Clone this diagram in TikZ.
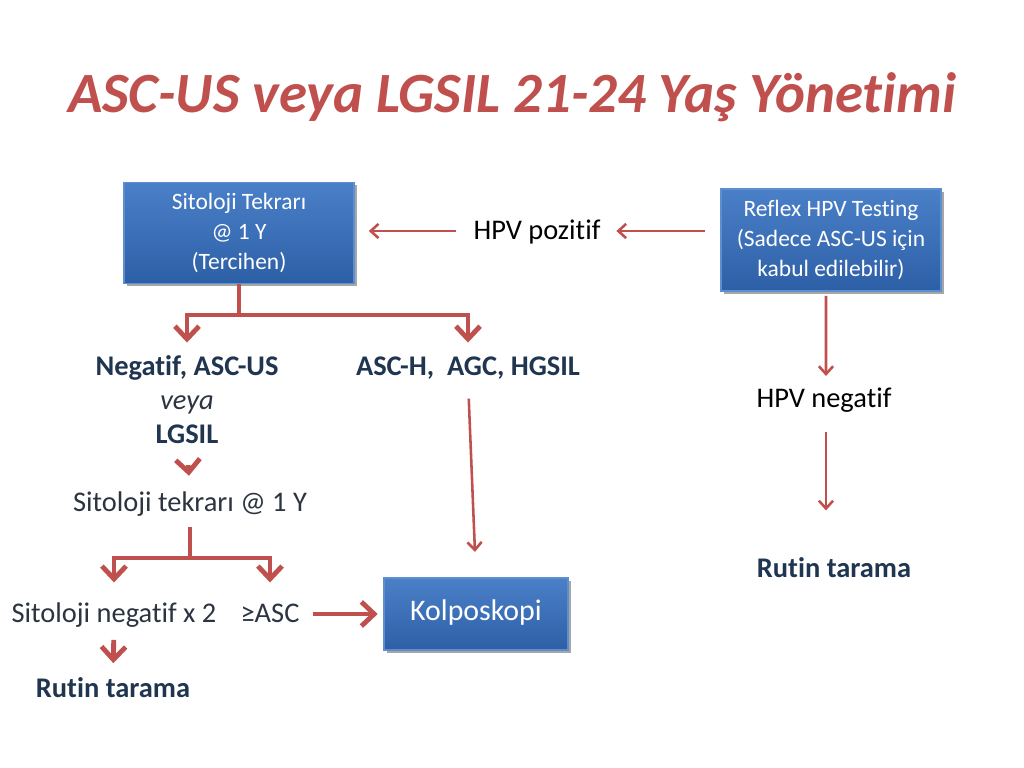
\documentclass[tikz,border=0pt]{standalone}
\usepackage{fontspec}
\setmainfont{Carlito}[Ligatures=NoCommon]
\usetikzlibrary{arrows.meta,shadows}
\definecolor{redA}{HTML}{C0504D}
\definecolor{arrowred}{HTML}{C0504D}
\definecolor{navy}{HTML}{1F3550}
\definecolor{darktext}{HTML}{2B3440}
\definecolor{boxtop}{HTML}{4A80C8}
\definecolor{boxbot}{HTML}{2D5FA6}
\definecolor{boxedge}{HTML}{5D8FD0}
\tikzset{
  bluebox/.style={draw=boxedge, line width=0.8pt, top color=boxtop, bottom color=boxbot,
    text=white, align=center, font=\fontsize{16.5}{21}\selectfont,
    drop shadow={shadow xshift=2pt, shadow yshift=-2pt, opacity=0.35, fill=black}},
  lbl/.style={inner sep=0pt, align=center, text height=15pt, text depth=3pt, font=\fontsize{20}{24}\selectfont},
  boldlbl/.style={lbl, text=navy, font=\fontsize{20}{24}\selectfont\bfseries},
  thinarrow/.style={draw=arrowred, line width=1.8pt, -{Straight Barb[length=5.5pt,width=10pt]}},
  thickarrow/.style={draw=arrowred, line width=3.4pt, -{Straight Barb[length=9pt,width=17pt]}},
  thickline/.style={draw=arrowred, line width=3.4pt}
}
\begin{document}
\begin{tikzpicture}[x=0.703pt,y=-0.703pt]
\useasboundingbox[fill=white] (0,0) rectangle (1024,768);

\node[inner sep=0pt, text=redA, font=\fontsize{40}{48}\selectfont\bfseries\itshape] (title) at (512,97) {ASC-US veya LGSIL 21-24 Yaş Yönetimi};

\node[bluebox, minimum width=161.7pt, minimum height=71pt] (b1) at (239,233) {Sitoloji Tekrarı\\@ 1 Y\\(Tercihen)};
\node[lbl, text=black] (hpvp) at (537,231) {HPV pozitif};
\node[bluebox, minimum width=154.7pt, minimum height=71.7pt] (b2) at (831,240) {Reflex HPV Testing\\(Sadece ASC-US için\\kabul edilebilir)};

\node[boldlbl] (neg1) at (187,367) {Negatif, ASC-US};
\node[lbl, text=darktext, font=\fontsize{20}{24}\selectfont\itshape] (veya) at (187,401) {veya};
\node[boldlbl] (lgsil) at (187,435) {LGSIL};
\node[boldlbl] (agc) at (468,367) {ASC-H,\ \ AGC, HGSIL};

\node[lbl, text=darktext] (tek) at (190,503) {Sitoloji tekrarı @ 1 Y};
\node[lbl, text=darktext] (sneg) at (114,614) {Sitoloji negatif x 2};
\node[lbl, text=darktext] (asc) at (270,614) {≥ASC};
\node[bluebox, minimum width=129.4pt, minimum height=50.6pt, text height=13pt, text depth=4pt, font=\fontsize{21}{25}\selectfont] (kol) at (476,614) {Kolposkopi};
\node[boldlbl] (rut1) at (113,689) {Rutin tarama};

\node[lbl, text=black] (hpvn) at (824,399) {HPV negatif};
\node[boldlbl] (rut2) at (834,569) {Rutin tarama};

\coordinate (j1) at (239,315);
\coordinate (j2) at (190,558);

% thin arrows
\draw[thinarrow, shorten <=12pt, shorten >=10pt] (hpvp.west) -- (b1.east |- hpvp.west);
\draw[thinarrow, shorten <=11pt, shorten >=11pt] (b2.west |- hpvp.east) -- (hpvp.east);
\draw[thinarrow, shorten <=13pt, shorten >=18pt] (agc.south) -- (kol.north);
\draw[thinarrow, shorten <=3pt, shorten >=7pt] (b2.south -| hpvn.north) ++(2,0) -- ([xshift=1.4pt]hpvn.north);
\draw[thinarrow, shorten <=14pt, shorten >=32pt] ([xshift=1.4pt]hpvn.south) -- ([xshift=1.4pt]hpvn.south |- rut2.north);

% thick tree arrows
\draw[thickline] (b1.south) -- (j1);
\draw[thickarrow, shorten >=8pt] (j1) -| (neg1.north);
\draw[thickarrow, shorten >=8pt] (j1) -| (agc.north);
\draw[thickarrow, shorten <=12pt, shorten >=10pt] (lgsil.south) -- (tek.north);
\draw[thickline, shorten <=8pt] (tek.south) -- (j2);
\draw[thickarrow, shorten >=13pt] (j2) -| (sneg.north);
\draw[thickarrow, shorten >=13pt] (j2) -| (asc.north);
\draw[thickarrow, shorten <=9pt, shorten >=4pt] (asc.east) -- (kol.west);
\draw[thickarrow, shorten <=9pt, shorten >=9pt] (sneg.south) -- (rut1.north);
\end{tikzpicture}
\end{document}
